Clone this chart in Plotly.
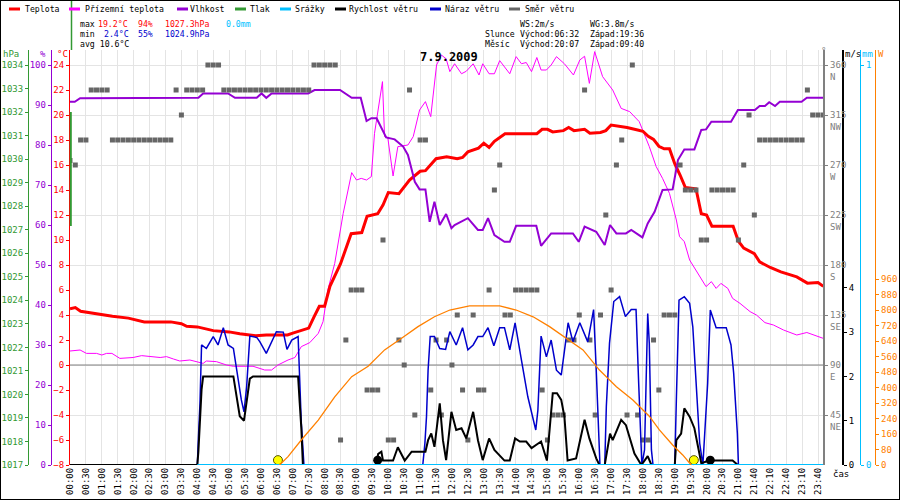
import plotly.graph_objects as go

FONT = "DejaVu Sans Mono"
W, H = 900, 500

# time axis: one slot per 10 min sample, the sample at 21:10 is missing
TICK_LABELS = [
    "00:00", "00:30", "01:00", "01:30", "02:00", "02:30", "03:00", "03:30",
    "04:00", "04:30", "05:00", "05:30", "06:00", "06:30", "07:00", "07:30",
    "08:00", "08:30", "09:00", "09:30", "10:00", "10:30", "11:00", "11:30",
    "12:00", "12:30", "13:00", "13:30", "14:00", "14:30", "15:00", "15:30",
    "16:00", "16:30", "17:00", "17:30", "18:00", "18:30", "19:00", "19:30",
    "20:00", "20:30", "21:00", "21:40", "22:10", "22:40", "23:10", "23:40",
]

# Teplota
TEMP_TIMES = [
    "00:00", "00:10", "00:20", "00:40", "01:20", "01:50", "02:20", "03:10", "03:30", "03:40",
    "04:00", "04:30", "05:00", "05:20", "05:50", "06:10", "06:50", "07:00", "07:30", "07:40",
    "07:50", "08:00", "08:10", "08:30", "08:50", "09:10", "09:20", "09:40", "09:50", "10:00",
    "10:20", "10:40", "11:00", "11:10", "11:30", "11:50", "12:10", "12:20", "12:30", "12:50",
    "13:00", "13:10", "13:20", "13:40", "14:40", "14:50", "15:00", "15:10", "15:30", "15:40",
    "15:50", "16:10", "16:20", "16:40", "16:50", "17:00", "17:30", "17:50", "18:00", "18:10",
    "18:20", "18:30", "18:40", "18:50", "19:00", "19:10", "19:20", "19:40", "19:50", "20:00",
    "20:10", "20:50", "21:00", "21:20", "21:40", "21:50", "22:10", "22:30", "23:00", "23:20",
    "23:40", "23:50",
]
TEMP = [
    4.5, 4.6, 4.3, 4.15, 3.9, 3.75, 3.45, 3.45, 3.3, 3.1,
    3.05, 2.75, 2.65, 2.5, 2.35, 2.4, 2.4, 2.55, 2.95, 3.85,
    4.7, 4.7, 6.3, 8.1, 10.5, 10.6, 11.9, 12.1, 12.8, 13.8,
    13.7, 14.8, 15.5, 15.55, 16.5, 16.65, 16.5, 16.6, 17.05, 17.35,
    17.75, 17.4, 17.9, 18.5, 18.5, 18.85, 18.85, 18.65, 18.75, 19.0,
    18.75, 18.85, 18.55, 18.6, 18.75, 19.2, 19.0, 18.8, 18.7, 18.3,
    18.05, 17.5, 17.3, 17.3, 16.1, 15.2, 14.2, 14.1, 12.1, 12.0,
    11.1, 11.1, 9.9, 9.35, 8.9, 8.25, 7.8, 7.45, 7.05, 6.55,
    6.6, 6.3,
]

# Přízemní teplota
GROUND_TIMES = [
    "00:00", "00:19", "00:31", "00:50", "01:00", "01:09", "01:19", "01:34", "01:59", "02:15",
    "02:50", "03:02", "03:15", "03:27", "03:46", "03:59", "04:11", "04:17", "04:36", "04:55",
    "05:08", "05:45", "06:07", "06:20", "06:32", "06:51", "07:04", "07:16", "07:32", "07:48",
    "07:57", "08:06", "08:19", "08:35", "08:51", "09:00", "09:09", "09:19", "09:28", "09:34",
    "09:42", "09:49", "09:53", "09:59", "10:09", "10:18", "10:37", "10:47", "10:59", "11:10",
    "11:20", "11:31", "11:40", "11:49", "11:56", "12:05", "12:18", "12:27", "12:40", "12:51",
    "12:58", "13:10", "13:20", "13:30", "13:49", "14:01", "14:11", "14:20", "14:30", "14:40",
    "14:48", "14:58", "15:07", "15:17", "15:32", "15:49", "16:01", "16:10", "16:19", "16:29",
    "16:44", "17:03", "17:19", "17:35", "17:53", "18:12", "18:25", "18:37", "18:50", "19:03",
    "19:09", "19:18", "19:28", "19:43", "19:59", "20:09", "20:18", "20:27", "20:40", "20:49",
    "21:06", "21:32", "21:44", "22:00", "22:16", "22:35", "23:00", "23:19", "23:31", "23:50",
]
GROUND = [
    1.12, 1.2, 0.93, 0.93, 0.8, 0.93, 0.93, 0.53, 0.6, 0.75,
    0.6, 0.67, 0.48, 0.32, 0.4, 0.27, 0.13, 0.32, 0.27, 0.0,
    -0.1, -0.1, -0.4, -0.4, 0.0, 0.4, 0.6, 1.47, 1.79, 2.53,
    3.47, 6.0, 8.13, 12.13, 15.39, 14.8, 14.93, 14.8, 15.07, 18.53,
    20.67, 22.67, 18.27, 18.2, 15.12, 17.47, 17.6, 18.27, 20.4, 21.07,
    19.87, 24.0, 24.8, 24.5, 23.47, 24.1, 23.3, 23.5, 24.1, 23.2,
    24.1, 23.3, 23.3, 24.35, 23.3, 24.67, 24.1, 24.2, 23.47, 24.6,
    23.6, 23.6, 24.0, 24.67, 24.1, 23.2, 24.4, 24.7, 22.53, 25.07,
    23.07, 22.0, 20.53, 20.27, 19.47, 17.47, 15.87, 14.93, 13.73, 11.6,
    10.27, 9.87, 8.4, 7.33, 6.27, 6.67, 6.13, 6.53, 6.13, 5.33,
    4.93, 4.27, 4.0, 3.39, 3.2, 2.8, 2.4, 2.6, 2.4, 2.13,
]

# Vlhkost
HUM_TIMES = [
    "00:00", "00:09", "00:19", "04:02", "04:11", "04:58", "05:11", "05:52", "06:01", "06:10",
    "06:20", "07:29", "07:41", "08:29", "08:51", "09:08", "09:19", "09:28", "09:38", "09:44",
    "09:56", "10:12", "10:28", "10:37", "10:50", "10:59", "11:10", "11:18", "11:27", "11:37",
    "11:49", "11:59", "12:05", "12:30", "12:49", "12:58", "13:08", "13:20", "13:39", "13:49",
    "14:01", "14:39", "14:48", "15:07", "15:48", "15:59", "16:10", "16:32", "16:48", "16:58",
    "17:10", "17:28", "17:38", "17:59", "18:09", "18:22", "18:37", "18:56", "19:06", "19:18",
    "19:37", "19:50", "19:59", "20:09", "20:46", "20:59", "21:41", "21:50", "22:00", "22:08",
    "22:19", "22:28", "23:09", "23:19", "23:50",
]
HUM = [
    90.8, 90.8, 91.7, 91.8, 92.9, 92.9, 91.8, 91.8, 92.9, 91.8,
    92.9, 92.9, 93.75, 93.75, 91.8, 91.8, 86.0, 86.7, 86.7, 85.0,
    81.9, 81.4, 79.6, 77.5, 70.8, 68.9, 68.9, 60.8, 65.8, 60.0,
    62.75, 59.2, 60.0, 61.7, 58.75, 58.75, 61.7, 57.5, 55.8, 55.8,
    59.8, 59.8, 54.8, 57.9, 57.9, 55.8, 59.6, 58.3, 55.0, 60.0,
    57.9, 57.9, 58.75, 56.9, 60.4, 63.3, 68.75, 68.9, 76.25, 78.9,
    78.9, 83.75, 83.9, 85.8, 85.8, 88.75, 88.75, 89.75, 89.75, 90.7,
    89.75, 90.8, 90.8, 91.8, 91.8,
]

# Rychlost větru (m/s)
WIND_TIMES = [
    "00:00", "04:00", "04:02", "04:05", "04:08", "04:11", "05:08", "05:14", "05:20", "05:28",
    "05:33", "05:39", "05:45", "07:10", "07:13", "07:16", "07:19", "09:36", "09:41", "09:47",
    "09:50", "10:09", "10:18", "10:31", "10:44", "11:10", "11:15", "11:21", "11:27", "11:37",
    "11:43", "11:49", "11:59", "12:08", "12:18", "12:27", "12:40", "12:49", "12:58", "13:10",
    "13:20", "13:39", "13:49", "13:59", "14:08", "14:20", "14:30", "14:48", "14:59", "15:10",
    "15:18", "15:26", "15:32", "15:38", "15:54", "16:10", "16:19", "16:32", "16:38", "16:48",
    "16:58", "17:03", "17:19", "17:28", "17:44", "17:57", "18:03", "18:09", "18:16", "19:00",
    "19:03", "19:12", "19:18", "19:28", "19:37", "19:43", "19:50", "20:05", "20:49", "20:59",
    "23:50",
]
WIND = [
    0, 0, 0.3, 1.2, 1.7, 2.0, 2.0, 1.55, 1.1, 1.0,
    1.4, 1.95, 2.0, 2.0, 1.4, 0.85, 0, 0, 0.25, 0.3,
    0.1, 0.1, 0.4, 0.1, 0.3, 0.3, 0.56, 0.71, 0.41, 1.39,
    0.56, 0.11, 1.2, 0.79, 0.83, 0.6, 1.2, 0.56, 0.11, 0.6,
    0.34, 0.1, 0.1, 0.6, 0.53, 0.53, 0.38, 0.53, 0.1, 1.62,
    1.62, 1.47, 1.09, 0.1, 0.15, 1.02, 0.6, 0.15, 0, 0,
    0.71, 0.56, 1.02, 0.9, 0.26, 0, 0.1, 0.2, 0, 0,
    0.56, 0.71, 1.28, 1.09, 0.83, 0.49, 0.04, 0.1, 0.1, 0,
    0,
]

# Náraz větru (m/s)
GUST_TIMES = [
    "00:00", "04:00", "04:02", "04:05", "04:08", "04:17", "04:30", "04:39", "04:49", "04:58",
    "05:08", "05:14", "05:23", "05:28", "05:33", "05:39", "05:52", "05:58", "06:10", "06:29",
    "06:42", "06:49", "06:58", "07:10", "07:13", "07:16", "07:21", "11:05", "11:09", "11:12",
    "11:15", "11:19", "11:27", "11:37", "11:48", "11:56", "12:08", "12:20", "12:30", "12:40",
    "12:49", "12:58", "13:08", "13:19", "13:30", "13:39", "13:49", "13:59", "14:11", "14:23",
    "14:38", "14:42", "14:48", "14:58", "15:07", "15:17", "15:26", "15:39", "15:48", "16:01",
    "16:16", "16:27", "16:32", "16:39", "16:48", "16:51", "16:57", "17:05", "17:16", "17:27",
    "17:38", "17:47", "17:52", "17:58", "18:03", "18:06", "18:09", "18:12", "18:16", "18:19",
    "19:00", "19:03", "19:08", "19:18", "19:28", "19:34", "19:40", "19:47", "19:53", "20:02",
    "20:07", "20:11", "20:18", "20:37", "20:46", "20:51", "20:58", "21:00", "23:50",
]
GUST = [
    0, 0, 0.6, 1.39, 2.71, 2.63, 2.9, 2.71, 3.1, 2.71,
    2.63, 2.14, 1.47, 1.2, 1.77, 2.91, 2.88, 2.78, 2.52, 3.01,
    3.0, 2.61, 2.82, 2.9, 1.92, 0.96, 0, 0, 0.49, 1.09,
    2.14, 2.9, 2.9, 2.63, 2.61, 3.01, 2.71, 3.1, 2.6, 2.71,
    2.9, 2.9, 3.1, 2.69, 3.1, 3.1, 2.6, 3.21, 2.37, 1.54,
    0.79, 1.24, 2.91, 2.44, 2.82, 2.14, 2.03, 3.21, 2.78, 3.21,
    2.78, 3.51, 2.14, 0, 0, 1.32, 2.75, 3.69, 3.8, 3.35,
    3.51, 3.51, 1.84, 0, 0.34, 1.9, 3.42, 2.75, 0.34, 0,
    0, 1.47, 3.72, 3.8, 3.65, 3.12, 1.84, 0.49, 0, 1.84,
    3.5, 3.35, 3.1, 3.1, 2.71, 2.08, 0.71, 0, 0,
]

# Směr větru (°), one value per 10 min sample
DIR_TIMES = [f"{m // 60:02d}:{m % 60:02d}"
             for m in list(range(0, 1261, 10)) + list(range(1280, 1431, 10))]
WIND_DIR = [
    274, 270, 292.5, 292.5, 337.5, 337.5, 337.5, 337.5,
    292.5, 292.5, 292.5, 292.5, 292.5, 292.5, 292.5, 292.5, 292.5, 292.5, 292.5, 292.5,
    337.5, 315, 337.5, 337.5, 337.5, 337.5, 360, 360, 360,
    337.5, 337.5, 337.5, 337.5, 337.5, 337.5, 337.5, 337.5, 337.5, 337.5, 337.5, 337.5,
    337.5, 337.5, 337.5, 337.5, 337.5,
    360, 360, 360, 360, 360,
    22.5, 112.5, 157.5, 157.5, 157.5, 67.5, 67.5, 67.5, 202.5, 22.5,
    22.5, 112.5, 90, 337.5, 45, 292.5, 292.5, 67.5, 112.5, 45,
    112.5, 90, 135, 67.5, 22.5, 135, 67.5, 67.5, 157.5, 247.5,
    270, 135, 135, 157.5, 157.5, 157.5, 157.5, 157.5, 67.5, 22.5,
    45, 45, 45, 112.5, 112.5, 135, 337.5, 112.5, 45, 135,
    225, 157.5, 270, 292.5, 45, 360, 45, 22.5, 22.5, 112.5,
    67.5, 135, 135, 135, 270, 247.5, 247.5, 247.5, 202.5, 202.5,
    247.5, 247.5, 247.5, 247.5, 247.5, 202.5, 270, 315, 225, 292.5,
    292.5, 292.5, 292.5, 292.5, 292.5, 292.5, 292.5, 292.5,
    337.5, 315, 315, 315,
]
DIR_TICKS = [45, 90, 135, 180, 225, 270, 315, 360]
DIR_NAMES = ["NE", "E", "SE", "S", "SW", "W", "NW", "N"]

# sluneční záření (W/m2)
SOLAR_TIMES = [
    "06:35", "06:51", "07:16", "07:48", "08:19", "08:51", "09:22", "09:53", "10:25", "10:56",
    "11:27", "11:56", "12:33", "13:30", "14:01", "14:33", "15:04", "15:35", "16:07", "16:38",
    "17:10", "17:41", "18:12", "18:31", "18:56", "19:15", "19:31",
]
SOLAR = [
    0, 43, 129, 232, 352, 456, 510, 594, 654, 714,
    765, 800, 821, 821, 800, 765, 714, 654, 594, 490,
    404, 335, 252, 181, 103, 52, 0,
]

# Srážky (mm)
RAIN_TIMES = ["04:00", "23:50"]
RAIN = [0.0, 0.0]

SUNRISE, SUNSET = "06:32", "19:36"
MOONRISE, MOONSET = "20:07", "09:40"
STATS = {"tmax": "19.2", "hmax": "94", "pmax": "1027.3", "rain": "0.0",
         "tmin": "2.4", "hmin": "55", "pmin": "1024.9", "tavg": "10.6",
         "ws": "2", "wg": "3.8"}
DATE = "7.9.2009"


def slot(t):
    h, m = map(int, t.split(":"))
    mins = h * 60 + m
    if mins <= 1260:
        return mins / 10
    if mins <= 1280:
        return 126 + (mins - 1260) / 20
    return mins / 10 - 1


def xs(times):
    return [slot(t) for t in times]


RED, MAGENTA, PURPLE, GREEN = "#ff0000", "#ff00ff", "#9400d3", "#339933"
CYAN, BLUE, GRAY, ORANGE = "#00bfff", "#0000cc", "#666666", "#ff8000"

X0, X1 = 70 / W, 823.3 / W
fig = go.Figure()

fig.add_trace(go.Scatter(x=xs(GROUND_TIMES), y=GROUND, mode="lines", name="Přízemní teplota",
                         line=dict(color=MAGENTA, width=1)))
fig.add_trace(go.Scatter(x=xs(TEMP_TIMES), y=TEMP, mode="lines", name="Teplota",
                         line=dict(color=RED, width=3)))
fig.add_trace(go.Scatter(x=xs(HUM_TIMES), y=HUM, mode="lines", name="Vlhkost", yaxis="y2",
                         line=dict(color=PURPLE, width=2)))
fig.add_trace(go.Scatter(x=[None], y=[None], name="Tlak", yaxis="y3",
                         line=dict(color=GREEN, width=2)))
fig.add_trace(go.Scatter(x=xs(DIR_TIMES), y=WIND_DIR, mode="markers", name="Směr větru",
                         yaxis="y4", marker=dict(symbol="square", size=5, color=GRAY)))
fig.add_trace(go.Scatter(x=xs(GUST_TIMES), y=GUST, mode="lines", name="Náraz větru",
                         yaxis="y5", line=dict(color=BLUE, width=1.5), cliponaxis=False))
fig.add_trace(go.Scatter(x=xs(WIND_TIMES), y=WIND, mode="lines", name="Rychlost větru",
                         yaxis="y5", line=dict(color="black", width=2), cliponaxis=False))
fig.add_trace(go.Scatter(x=xs(RAIN_TIMES), y=RAIN, mode="lines", name="Srážky",
                         yaxis="y6", line=dict(color=CYAN, width=2), cliponaxis=False))
fig.add_trace(go.Scatter(x=xs(SOLAR_TIMES), y=SOLAR, mode="lines", name="Záření",
                         yaxis="y7", line=dict(color=ORANGE, width=1.3)))
# slunce / měsíc
fig.add_trace(go.Scatter(x=xs([SUNRISE, SUNSET]), y=[0.11, 0.11], mode="markers", yaxis="y5",
                         marker=dict(size=9, color="#ffff00", line=dict(color="#555500", width=1)),
                         cliponaxis=False))
fig.add_trace(go.Scatter(x=xs([MOONSET, MOONRISE]), y=[0.11, 0.11], mode="markers", yaxis="y5",
                         marker=dict(size=9, color="black"), cliponaxis=False))

tick_font = dict(family=FONT, size=9)


def yax(color, rng, vals, **kw):
    d = dict(range=rng, tickvals=vals, showgrid=False, zeroline=False, showline=True,
             linecolor=color, linewidth=1, ticks="outside", ticklen=3, tickcolor=color,
             tickfont=dict(tick_font, color=color), domain=[35 / H, 450 / H],
             automargin=False, fixedrange=True)
    d.update(kw)
    return d


fig.update_layout(
    width=W, height=H, margin=dict(l=0, r=0, t=0, b=0),
    paper_bgcolor="white", plot_bgcolor="white", showlegend=False,
    font=dict(family=FONT, size=9, color="black"),
    xaxis=dict(domain=[X0, X1], range=[0, 142], tickvals=xs(TICK_LABELS), ticktext=TICK_LABELS,
               tickangle=-90, showgrid=True, gridcolor="#e4e4e4", gridwidth=1, zeroline=False,
               showline=False, ticks="", tickfont=tick_font, automargin=False),
    yaxis=yax(RED, [-8, 25.2], list(range(-8, 25, 2))),
    yaxis2=yax(PURPLE, [0, 103.75], list(range(0, 101, 10)), overlaying="y", anchor="free",
               position=50.7 / W, side="left"),
    yaxis3=yax(GREEN, [1017, 1034.64], list(range(1017, 1035)), overlaying="y", anchor="free",
               position=28 / W, side="left"),
    yaxis4=yax("#808080", [0, 373.5], DIR_TICKS, overlaying="y", anchor="x", side="right",
               ticktext=[f"{v}<br>{n}" for v, n in zip(DIR_TICKS, DIR_NAMES)],
               showgrid=True, gridcolor="#e4e4e4", linewidth=2, ticklabelshift=6),
    yaxis5=yax("black", [0, 9.368], [0, 1, 2, 3, 4], overlaying="y", anchor="free",
               position=843.3 / W, side="right", linewidth=1.5),
    yaxis6=yax(CYAN, [0, 1.0375], [0, 1], overlaying="y", anchor="free",
               position=860.3 / W, side="right"),
    yaxis7=yax(ORANGE, [0, 2141.9], list(range(0, 961, 80)), overlaying="y", anchor="free",
               position=875.3 / W, side="right"),
)

# nulová čára teploty
fig.add_shape(type="line", xref="x", yref="y", x0=0, x1=142, y0=0, y1=0, layer="between",
              line=dict(color="#808080", width=1))
# tlak - svislá čára na začátku
fig.add_shape(type="line", xref="paper", yref="paper", x0=70.8 / W, x1=70.8 / W,
              y0=1 - 112 / H, y1=1 - 226 / H, line=dict(color=GREEN, width=2))
fig.add_shape(type="line", xref="paper", yref="paper", x0=71.5 / W, x1=71.5 / W,
              y0=1, y1=1 - 50 / H, line=dict(color=GREEN, width=1.5))
# rámeček
fig.add_shape(type="rect", xref="paper", yref="paper", x0=0, x1=1, y0=0, y1=1,
              line=dict(color="black", width=2))


def text(x, y, s, color="black", size=8.2, anchor="left"):
    fig.add_annotation(xref="paper", yref="paper", x=x / W, y=1 - y / H, text=s,
                       showarrow=False, xanchor=anchor, yanchor="middle", borderpad=0,
                       font=dict(family=FONT, size=size, color=color))


# legenda
LEGEND = [(RED, 9, "Teplota", 24), (MAGENTA, 69, "Přízemní teplota", 84),
          (PURPLE, 177, "Vlhkost", 189), (GREEN, 235, "Tlak", 249),
          (CYAN, 280, "Srážky", 294), ("black", 335, "Rychlost větru", 348),
          (BLUE, 430, "Náraz větru", 444), (GRAY, 509, "Směr větru", 524)]
for color, lx, name, tx in LEGEND:
    fig.add_shape(type="line", xref="paper", yref="paper", x0=lx / W, x1=(lx + 11) / W,
                  y0=1 - 9 / H, y1=1 - 9 / H, line=dict(color=color, width=3))
    text(tx, 9, name)

# statistika
text(79, 24, "max")
text(97, 24, f"{STATS['tmax']}°C", RED)
text(137, 24, f"{STATS['hmax']}%", RED)
text(164, 24, f"{STATS['pmax']}hPa", RED)
text(225, 24, f"{STATS['rain']}mm", CYAN)
text(79, 34, "min")
text(103, 34, f"{STATS['tmin']}°C", BLUE)
text(137, 34, f"{STATS['hmin']}%", BLUE)
text(164, 34, f"{STATS['pmin']}hPa", BLUE)
text(79, 44, f"avg {STATS['tavg']}°C")
text(519, 24, f"WS:{STATS['ws']}m/s")
text(589, 24, f"WG:{STATS['wg']}m/s")
text(484, 34, "Slunce")
text(519, 34, f"Východ:{SUNRISE}")
text(589, 34, f"Západ:{SUNSET}")
text(484, 44, "Měsíc")
text(519, 44, f"Východ:{MOONRISE}")
text(589, 44, f"Západ:{MOONSET}")

fig.add_annotation(xref="paper", yref="paper", x=449 / W, y=1 - 57 / H, text=f"<b>{DATE}</b>",
                   showarrow=False, xanchor="center", yanchor="middle",
                   font=dict(family=FONT, size=12, color="black"))

# popisky os
text(2, 54, "hPa", GREEN, 9)
text(39, 54, "%", PURPLE, 9)
text(56, 54, "°C", RED, 9)
text(820, 51, "°", "#808080", 9)
text(844, 54, "m/s", "black", 9)
text(861, 54, "mm", CYAN, 9)
text(877, 54, "W", ORANGE, 9)
text(832, 474, "čas", "black", 9)

fig.write_html("out.html", config={"displayModeBar": False},
               post_script="document.body.style.margin='0';"
               "document.body.style.overflow='hidden';")
